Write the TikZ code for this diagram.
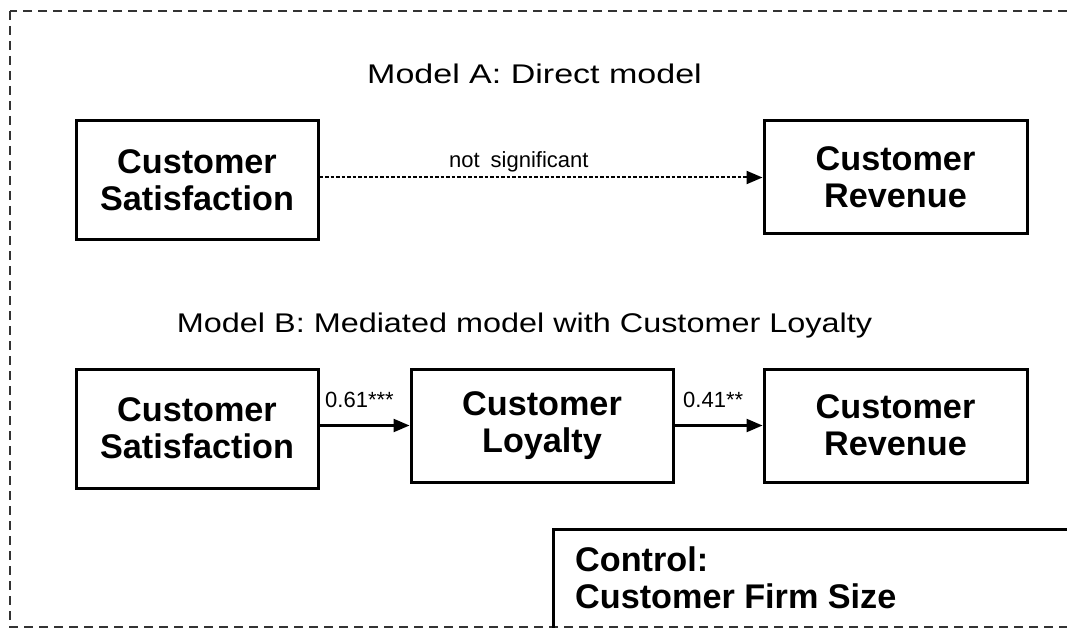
\documentclass[tikz,border=0pt]{standalone}
\usepackage{fontspec}
\setmainfont{Liberation Sans}
\newfontfamily\widesans[FakeStretch=1.26]{Liberation Sans}
\newfontfamily\midsans[FakeStretch=1.2]{Liberation Sans}
\usetikzlibrary{arrows.meta}

\tikzset{
  x=1pt, y=-1pt,
  varbox/.style={draw=black, line width=3pt, rectangle, inner sep=0pt,
    align=center, font=\fontsize{34.2}{37}\selectfont\bfseries},
  pathlink/.style={line width=2.4pt, -{Triangle[length=16pt,width=13pt]}},
  nslink/.style={line width=2pt, dash pattern=on 3.5pt off 2pt,
    -{Triangle[length=16pt,width=13pt]}},
  coef/.style={font=\fontsize{22}{22}\selectfont, inner sep=0pt},
  heading/.style={inner sep=0pt},
}

\begin{document}
\begin{tikzpicture}
  \useasboundingbox (0,0) rectangle (1067,628);
  \clip (0,0) rectangle (1067,628);

  % outer dashed frame
  \draw[line width=2.6pt, color=black!80, dash pattern=on 9pt off 6pt]
    (10,11) rectangle (1085,627);

  % model A
  \node[heading, anchor=base, font=\widesans\fontsize{27}{27}\selectfont]
    (titleA) at (534.5,84) {Model A: Direct model};
  \node[varbox, minimum width=242pt, minimum height=119pt] (sA) at (197,180.5)
    {Customer\\Satisfaction};
  \node[varbox, minimum width=263pt, minimum height=113pt] (rA) at (895.5,177.5)
    {Customer\\Revenue};
  \draw[nslink] (sA.east |- rA.west) -- (rA.west)
    node[coef, pos=0.45, above=4pt] (ns) {not\hspace{0.5em}significant};

  % model B
  \node[heading, anchor=base, font=\midsans\fontsize{27}{27}\selectfont]
    (titleB) at (524.5,332) {Model B: Mediated model with Customer Loyalty};
  \node[varbox, minimum width=242pt, minimum height=119pt] (sB) at (197,428.5)
    {Customer\\Satisfaction};
  \node[varbox, minimum width=262pt, minimum height=113pt] (lB) at (542,425.5)
    {Customer\\Loyalty};
  \node[varbox, minimum width=263pt, minimum height=113pt] (rB) at (895.5,425.5)
    {Customer\\Revenue};
  \draw[pathlink] (sB.east |- lB.west) -- (lB.west);
  \draw[pathlink] (lB.east) -- (rB.west);
  \node[coef, anchor=base west] (c1) at (325,407) {0.61***};
  \node[coef, anchor=base west] (c2) at (683,407) {0.41**};

  % control variable
  \draw[line width=3pt] (1090,529) -- (553,529) -- (553,640);
  \node[anchor=north west, inner sep=0pt, align=left,
        font=\fontsize{34.2}{37}\selectfont\bfseries] (ctrl) at (575,547)
    {Control:\\Customer Firm Size};
\end{tikzpicture}
\end{document}
